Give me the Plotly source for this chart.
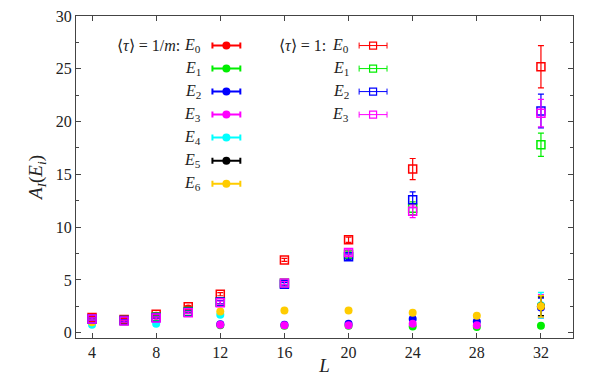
import plotly.graph_objects as go

# <tau> = 1/m  (filled circles)
L_c0 = [4, 6, 8, 10]
E0_c = [1.35, 1.2, 1.6, 2.3]
E0_c_err = [0.05, 0.05, 0.05, 0.05]

L_c = [12, 16, 20, 24, 28, 32]
E1_c = [0.7, 0.65, 0.65, 0.6, 0.55, 0.65]
E1_c_err = [0.05, 0.05, 0.05, 0.05, 0.05, 0.1]
E2_c = [0.8, 0.75, 0.85, 1.3, 1.07, 2.4]
E2_c_err = [0.05, 0.05, 0.05, 0.1, 0.1, 0.9]
E3_c = [0.75, 0.7, 0.7, 0.85, 0.7, 2.5]
E3_c_err = [0.05, 0.05, 0.05, 0.1, 0.1, 1.1]

L_c4 = [4, 8, 12, 32]
E4_c = [0.75, 0.85, 1.7, 2.6]
E4_c_err = [0.05, 0.05, 0.05, 1.2]

L_c5 = [32]
E5_c = [2.5]
E5_c_err = [0.9]

L_c6 = [4, 12, 16, 20, 24, 28, 32]
E6_c = [1.0, 2.0, 2.1, 2.1, 1.9, 1.6, 2.5]
E6_c_err = [0.05, 0.05, 0.05, 0.05, 0.1, 0.1, 1.0]

# <tau> = 1  (open squares)
L_s = [4, 6, 8, 10, 12, 16, 20, 24, 32]
E0_s = [1.45, 1.25, 1.75, 2.45, 3.65, 6.9, 8.8, 15.5, 25.2]
E0_s_err = [0.1, 0.1, 0.1, 0.1, 0.15, 0.15, 0.25, 1.0, 2.0]
E1_s = [1.3, 1.15, 1.5, 2.0, 2.9, 4.7, 7.4, 11.8, 17.8]
E1_s_err = [0.1, 0.1, 0.1, 0.1, 0.15, 0.15, 0.25, 0.6, 1.1]
E2_s = [1.3, 1.15, 1.45, 1.95, 2.9, 4.6, 7.2, 12.6, 21.0]
E2_s_err = [0.1, 0.1, 0.1, 0.1, 0.15, 0.15, 0.25, 0.75, 1.6]
E3_s = [1.3, 1.1, 1.4, 1.9, 2.85, 4.7, 7.6, 11.5, 20.8]
E3_s_err = [0.1, 0.1, 0.1, 0.1, 0.15, 0.15, 0.25, 0.6, 1.3]

colors = ["#ff0000", "#00ee00", "#0000ff", "#ff00ff", "#00ffff", "#000000", "#ffcc00"]

circles = [
    (L_c0, E0_c, E0_c_err),
    (L_c, E1_c, E1_c_err),
    (L_c, E2_c, E2_c_err),
    (L_c, E3_c, E3_c_err),
    (L_c4, E4_c, E4_c_err),
    (L_c5, E5_c, E5_c_err),
    (L_c6, E6_c, E6_c_err),
]
squares = [
    (L_s, E0_s, E0_s_err),
    (L_s, E1_s, E1_s_err),
    (L_s, E2_s, E2_s_err),
    (L_s, E3_s, E3_s_err),
]

# key placement (data coordinates of the inset key)
key_top = 27.2
key_step = 2.18
key_circ_x = 12.38
key_sq_x = 21.53
key_half = 0.87
text_circ_x = 10.95
text_sq_x = 20.15

font = "Liberation Serif"

fig = go.Figure()

for i, (x, y, e) in enumerate(circles):
    fig.add_trace(go.Scatter(
        x=x, y=y, mode="markers",
        marker=dict(symbol="circle", size=8, color=colors[i]),
        error_y=dict(type="data", array=e, color=colors[i], thickness=1.5, width=3),
        showlegend=False))

for i, (x, y, e) in enumerate(squares):
    fig.add_trace(go.Scatter(
        x=x, y=y, mode="markers",
        marker=dict(symbol="square-open", size=8, color=colors[i], line=dict(width=1.5)),
        error_y=dict(type="data", array=e, color=colors[i], thickness=1.2, width=3),
        showlegend=False))

annotations = []
# circle key
for i in range(7):
    ky = key_top - i * key_step
    fig.add_trace(go.Scatter(
        x=[key_circ_x], y=[ky], mode="markers",
        marker=dict(symbol="circle", size=8, color=colors[i]),
        error_x=dict(type="constant", value=key_half, color=colors[i], thickness=2, width=3),
        showlegend=False, hoverinfo="skip"))
    annotations.append(dict(x=text_circ_x, y=ky, xref="x", yref="y",
                            text="<i>E</i><sub>%d</sub>" % i, showarrow=False,
                            xanchor="right", yanchor="middle"))
# square key
for i in range(4):
    ky = key_top - i * key_step
    fig.add_trace(go.Scatter(
        x=[key_sq_x], y=[ky], mode="markers",
        marker=dict(symbol="square-open", size=7, color=colors[i], line=dict(width=1.2)),
        error_x=dict(type="constant", value=key_half, color=colors[i], thickness=1, width=3),
        showlegend=False, hoverinfo="skip"))
    annotations.append(dict(x=text_sq_x, y=ky, xref="x", yref="y",
                            text="<i>E</i><sub>%d</sub>" % i, showarrow=False,
                            xanchor="right", yanchor="middle"))

annotations.append(dict(x=9.6, y=key_top, xref="x", yref="y",
                        text="⟨<i>τ</i>⟩ = 1/<i>m</i>:", showarrow=False,
                        xanchor="right", yanchor="middle"))
annotations.append(dict(x=18.7, y=key_top, xref="x", yref="y",
                        text="⟨<i>τ</i>⟩ = 1:", showarrow=False,
                        xanchor="right", yanchor="middle"))

axis_common = dict(showline=True, linecolor="#444444", linewidth=1, mirror="ticks",
                   ticks="inside", ticklen=5, tickcolor="#444444", showgrid=False,
                   zeroline=False, automargin=False, ticklabeloverflow="allow",
                   tickfont=dict(size=16, color="#222222"))

# the page body adds an 8px margin, so the figure is sized to fit inside it
fig.update_layout(
    width=580, height=368,
    margin=dict(l=68, r=15, t=8, b=38),
    plot_bgcolor="white", paper_bgcolor="white",
    font=dict(family=font, size=16, color="#222222"),
    annotations=annotations,
    xaxis=dict(range=[3, 34], tick0=4, dtick=4,
               title=dict(text="<i>L</i>", standoff=10), **axis_common),
    yaxis=dict(range=[-0.5, 30], tick0=0, dtick=5,
               minor=dict(ticks="inside", ticklen=3, dtick=2.5, tickcolor="#444444"),
               title=dict(text="<i>A</i><sub><i>I</i></sub>(<i>E</i><sub><i>i</i></sub>)", standoff=8),
               **axis_common),
)

fig.write_html("out.html")
